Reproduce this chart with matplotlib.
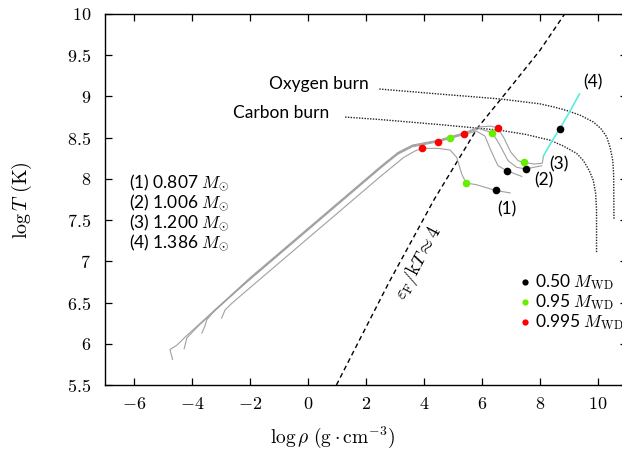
import matplotlib
matplotlib.use("Agg")
import matplotlib.pyplot as plt
import numpy as np

plt.rcParams['mathtext.fontset'] = 'cm'
plt.rcParams['font.family'] = ['Lato', 'DejaVu Sans']

# ---------------- data (log rho, log T) ----------------
track1_x = [-2.98, -2.86, -2.63, -2.0, 0.0, 2.5, 3.3, 3.7, 3.94, 4.5, 4.9, 5.13, 5.30, 5.45, 5.8, 6.47, 6.97]
track1_y = [6.31, 6.41, 6.49, 6.68, 7.28, 8.03, 8.26, 8.34, 8.37, 8.37, 8.35, 8.26, 8.06, 7.95, 7.93, 7.86, 7.83]

track2_x = [-3.66, -3.55, -3.49, -3.21, -2.0, 0.0, 2.5, 3.1, 3.6, 4.49, 4.90, 5.4, 5.8, 6.1, 6.3, 6.55, 6.85, 7.37]
track2_y = [6.13, 6.22, 6.29, 6.41, 6.78, 7.38, 8.13, 8.30, 8.39, 8.45, 8.49, 8.54, 8.58, 8.52, 8.35, 8.16, 8.10, 8.03]

track3_x = [-4.27, -4.22, -4.18, -3.8, -2.0, 0.0, 2.5, 3.1, 3.6, 4.5, 5.39, 5.9, 6.36, 6.6, 6.9, 7.2, 7.50, 8.06]
track3_y = [5.94, 6.01, 6.07, 6.21, 6.79, 7.39, 8.14, 8.31, 8.40, 8.46, 8.55, 8.61, 8.56, 8.42, 8.22, 8.14, 8.12, 8.16]

track4_x = [-4.67, -4.76, -4.53, -4.24, -2.0, 0.0, 2.5, 3.1, 3.6, 4.5, 5.4, 5.9, 6.3, 6.54, 6.75, 7.0, 7.25, 7.46, 7.8, 8.08, 8.12]
track4_y = [5.81, 5.93, 5.98, 6.08, 6.80, 7.40, 8.15, 8.32, 8.41, 8.47, 8.56, 8.63, 8.64, 8.62, 8.50, 8.32, 8.22, 8.20, 8.18, 8.19, 8.28]

cyan_x = [8.12, 8.40, 8.70, 9.00, 9.36]
cyan_y = [8.28, 8.45, 8.62, 8.80, 9.03]

degen_x = [0.98, 2.80, 4.35, 5.85, 7.0, 8.0, 8.85]
degen_y = [5.5, 6.75, 7.75, 8.62, 9.12, 9.56, 10.0]

oxygen_x = [2.46, 4.5, 6.62, 8.0, 8.5, 8.92, 9.4, 9.84, 10.1, 10.30, 10.42, 10.51, 10.54, 10.55]
oxygen_y = [9.09, 9.03, 8.97, 8.91, 8.87, 8.83, 8.77, 8.69, 8.61, 8.51, 8.38, 8.22, 8.05, 7.50]

carbon_x = [1.28, 2.48, 4.5, 6.62, 7.5, 8.34, 8.8, 9.26, 9.5, 9.7, 9.84, 9.92, 9.95, 9.95]
carbon_y = [8.75, 8.72, 8.66, 8.59, 8.54, 8.47, 8.40, 8.31, 8.22, 8.10, 7.98, 7.82, 7.62, 7.11]

black_x = [6.47, 6.85, 7.50, 8.70]
black_y = [7.86, 8.10, 8.12, 8.61]
green_x = [5.45, 4.90, 6.36, 7.46]
green_y = [7.95, 8.49, 8.56, 8.20]
red_x = [3.94, 4.49, 5.39, 6.54]
red_y = [8.37, 8.45, 8.55, 8.62]

mass_labels = [r'(1) 0.807 $M_{\odot}$', r'(2) 1.006 $M_{\odot}$',
               r'(3) 1.200 $M_{\odot}$', r'(4) 1.386 $M_{\odot}$']
legend_labels = [r'0.50 $M_{\rm WD}$', r'0.95 $M_{\rm WD}$', r'0.995 $M_{\rm WD}$']
xticks = [-6, -4, -2, 0, 2, 4, 6, 8, 10]
yticks = [5.5, 6, 6.5, 7, 7.5, 8, 8.5, 9, 9.5, 10]

# ---------------- figure ----------------
W, H = 622, 449
fig = plt.figure(figsize=(W / 100, H / 100), dpi=100)
ax = fig.add_axes([105 / W, (H - 385) / H, 522 / W, 371 / H])
ax.set_xlim(-7, 11)
ax.set_ylim(5.5, 10)

grey = '#a0a0a0'
for tx, ty in [(track1_x, track1_y), (track2_x, track2_y),
               (track3_x, track3_y), (track4_x, track4_y)]:
    ax.plot(tx, ty, color=grey, lw=0.8, zorder=2)
ax.plot(cyan_x, cyan_y, color='#55eedd', lw=1.2, zorder=2)

ax.plot(degen_x, degen_y, color='black', lw=1.0, ls=(0, (3.5, 2.5)), zorder=1)
ax.plot(oxygen_x, oxygen_y, color='#222222', lw=1.0, ls=(0, (1, 1)), zorder=1)
ax.plot(carbon_x, carbon_y, color='#222222', lw=1.0, ls=(0, (1, 1)), zorder=1)

ms = 5.5
ax.plot(black_x, black_y, 'o', color='black', ms=ms, mec='none', zorder=3)
ax.plot(green_x, green_y, 'o', color='#66ee00', ms=ms, mec='none', zorder=3)
ax.plot(red_x, red_y, 'o', color='#ff0000', ms=ms, mec='none', zorder=3)

fs = 12.5
ax.text(2.08, 9.15, 'Oxygen burn', ha='right', va='center', fontsize=fs)
ax.text(0.73, 8.80, 'Carbon burn', ha='right', va='center', fontsize=fs)

for i, lab in enumerate(mass_labels):
    ax.text(-6.16, 7.96 - 0.243 * i, lab, ha='left', va='center', fontsize=fs)

ax.text(6.85, 7.63, '(1)', ha='center', va='center', fontsize=fs)
ax.text(8.15, 7.98, '(2)', ha='center', va='center', fontsize=fs)
ax.text(8.66, 8.18, '(3)', ha='center', va='center', fontsize=fs)
ax.text(9.84, 9.17, '(4)', ha='center', va='center', fontsize=fs)

leg_colors = ['black', '#66ee00', '#ff0000']
leg_y = [6.75, 6.51, 6.26]
for c, yy, lab in zip(leg_colors, leg_y, legend_labels):
    ax.plot([7.48], [yy], 'o', color=c, ms=4.5, mec='none')
    ax.text(7.82, yy, lab, ha='left', va='center', fontsize=fs)

ax.text(3.82, 6.98, r'$\varepsilon_{\rm F}/{\rm k}T \approx 4$', rotation=62,
        ha='center', va='center', fontsize=13.5)

ax.set_xticks(xticks)
ax.set_xticklabels([r'$%d$' % t for t in xticks])
ax.set_yticks(yticks)
ax.set_yticklabels([(r'$%g$' % t) for t in yticks])
ax.tick_params(direction='in', top=True, right=True, length=5, width=0.9,
               labelsize=13)
ax.tick_params(axis='x', pad=8)
ax.tick_params(axis='y', pad=10)
for s in ax.spines.values():
    s.set_linewidth(1.0)

fig.text(333 / W, 1 - 437 / H, r'$\log\rho\ ({\rm g\cdot cm^{-3}})$',
         ha='center', va='center', fontsize=14)
fig.text(22 / W, 1 - 200 / H, r'$\log T\ ({\rm K})$', rotation=90,
         ha='center', va='center', fontsize=14.5)

fig.savefig('out.png', dpi=100)
